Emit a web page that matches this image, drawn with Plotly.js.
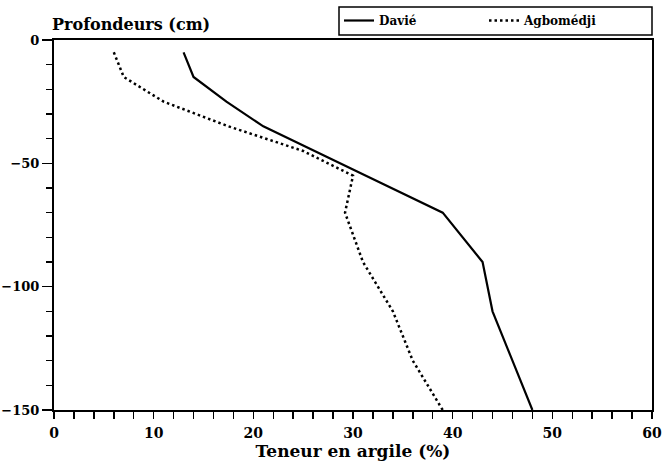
<!DOCTYPE html>
<html>
<head>
<meta charset="utf-8">
<script src="https://cdn.plot.ly/plotly-3.0.1.min.js"></script>
<style>
  html, body { margin: 0; padding: 0; background: #fff; }
  #chart { width: 662px; height: 463px; }
</style>
</head>
<body>
<div id="chart"></div>
<script>
// Clay content (%) by depth (cm) for the two soil profiles
const depthDavie = [-5, -15, -25, -35, -55, -70, -90, -110, -150];
const clayDavie  = [13, 14, 17.3, 21, 31.3, 39, 43, 44, 48];

const depthAgbomedji = [-5, -15, -25, -35, -45, -55, -70, -90, -110, -130, -150];
const clayAgbomedji  = [6, 7, 11, 17.5, 25, 30, 29.2, 31, 34, 36, 39];

const seriesNames = ['Davié', 'Agbomédji'];
const xTickVals = [0, 10, 20, 30, 40, 50, 60];
const yTickVals = [0, -50, -100, -150];

const FONT = '"DejaVu Serif"';
const boldFont = (size) => ({ family: FONT, size: size, color: '#000', weight: 'bold' });

const traces = [
  {
    x: clayDavie, y: depthDavie, name: seriesNames[0],
    type: 'scatter', mode: 'lines',
    line: { color: '#000', width: 2.2 }
  },
  {
    x: clayAgbomedji, y: depthAgbomedji, name: seriesNames[1],
    type: 'scatter', mode: 'lines',
    line: { color: '#000', width: 2.5, dash: '2.5px,3px' }
  }
];

const layout = {
  width: 662, height: 463,
  margin: { l: 54, r: 10, t: 40, b: 53 },
  paper_bgcolor: '#fff', plot_bgcolor: '#fff',
  font: boldFont(13),
  title: {
    text: 'Profondeurs (cm)',
    font: boldFont(16),
    x: 52 / 662, xanchor: 'left',
    y: 1 - 24 / 463, yanchor: 'middle'
  },
  showlegend: true,
  legend: {
    orientation: 'h',
    xref: 'container', yref: 'container',
    x: 339 / 662, xanchor: 'left',
    y: 1 - 6 / 463, yanchor: 'top',
    borderwidth: 0,
    bgcolor: 'rgba(0,0,0,0)',
    font: boldFont(12),
    entrywidth: 100, entrywidthmode: 'pixels',
    itemwidth: 30
  },
  // frame around the legend, spanning to the right edge of the plot
  shapes: [{
    type: 'rect', xref: 'paper', yref: 'paper',
    x0: (339 - 54) / 598, x1: 1,
    y0: (410 - 35) / 370, y1: (410 - 7) / 370,
    line: { color: '#000', width: 1.5 }, fillcolor: 'rgba(0,0,0,0)'
  }],
  xaxis: {
    range: [0, 60],
    tickvals: xTickVals,
    ticks: 'outside', ticklen: 7, tickwidth: 1.5, tickcolor: '#000',
    minor: { dtick: 2, ticks: 'outside', ticklen: 7, tickwidth: 1.5, tickcolor: '#000', showgrid: false },
    showline: true, linecolor: '#000', linewidth: 2, mirror: true,
    showgrid: false, zeroline: false,
    tickfont: boldFont(14),
    ticklabelstandoff: 2,
    title: { text: 'Teneur en argile (%)', font: boldFont(17), standoff: 4 }
  },
  yaxis: {
    range: [-150, 0],
    tickvals: yTickVals,
    ticks: 'outside', ticklen: 10, tickwidth: 1.5, tickcolor: '#000',
    minor: { dtick: 10, ticks: 'outside', ticklen: 6, tickwidth: 1.5, tickcolor: '#000', showgrid: false },
    showline: true, linecolor: '#000', linewidth: 2, mirror: true,
    showgrid: false, zeroline: false,
    tickfont: boldFont(13)
  }
};

Plotly.newPlot('chart', traces, layout, { displayModeBar: false, staticPlot: true });
</script>
</body>
</html>
